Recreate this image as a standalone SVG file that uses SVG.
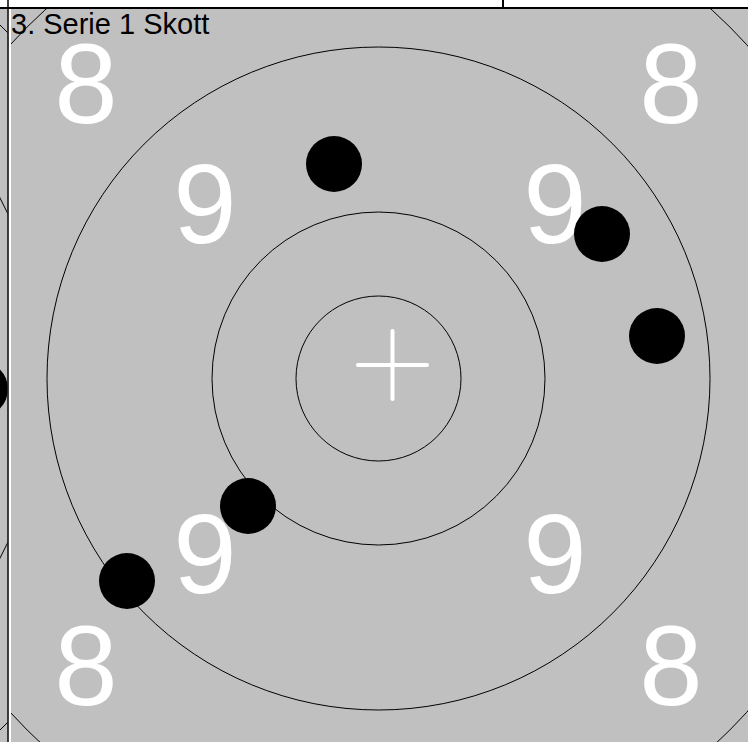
<svg xmlns="http://www.w3.org/2000/svg" width="748" height="742" viewBox="0 0 748 742">
  <style>
    .ring { fill: none; stroke: #000; stroke-width: 1; }
    .num { font-family: "Liberation Sans", Arial, sans-serif; font-size: 114px; fill: #fff; text-anchor: middle; }
    .title { font-family: "Liberation Sans", Arial, sans-serif; font-size: 29px; fill: #000; }
    .hit { fill: #000; }
  </style>
  <defs>
    <clipPath id="mainClip"><rect x="11" y="9" width="737" height="733"/></clipPath>
    <clipPath id="leftClip"><rect x="0" y="9" width="7.5" height="733"/></clipPath>
  </defs>
  <rect x="0" y="0" width="748" height="742" fill="#fff"/>
  <g id="left-strip">
    <rect x="0" y="9" width="7.5" height="733" fill="#c0c0c0"/>
    <g clip-path="url(#leftClip)" stroke="#000" stroke-width="1" fill="none">
      <line x1="-2" y1="23" x2="9" y2="34"/>
      <line x1="-2" y1="194" x2="9" y2="216"/>
      <line x1="-2" y1="562" x2="9" y2="540"/>
      <line x1="-2" y1="732" x2="9" y2="721"/>
      <circle cx="-20" cy="389" r="28" fill="#000" stroke="none"/>
    </g>
  </g>
  <g id="target" clip-path="url(#mainClip)">
    <rect x="11" y="9" width="737" height="733" fill="#c0c0c0"/>
    <circle class="ring" cx="378.5" cy="378.5" r="497"/>
    <circle class="ring" cx="378.5" cy="378.5" r="331.5"/>
    <circle class="ring" cx="378.5" cy="378.5" r="166.5"/>
    <circle class="ring" cx="378.5" cy="378.5" r="82.5"/>
  </g>
  <g id="frame" stroke="#000">
    <line x1="0" y1="8" x2="748" y2="8" stroke-width="2"/>
    <line x1="8" y1="0" x2="8" y2="742" stroke-width="1.5"/>
    <line x1="503" y1="0" x2="503" y2="7" stroke-width="2"/>
  </g>
  <g id="cross" stroke="#fff" stroke-width="4" stroke-linecap="round">
    <line x1="358" y1="365" x2="427" y2="365"/>
    <line x1="392.5" y1="331" x2="392.5" y2="399"/>
  </g>
  <g id="numbers">
    <text class="num" x="86" y="123">8</text>
    <text class="num" x="671" y="123">8</text>
    <text class="num" x="205" y="243">9</text>
    <text class="num" x="555" y="243">9</text>
    <text class="num" x="205" y="593">9</text>
    <text class="num" x="555" y="593">9</text>
    <text class="num" x="86" y="705">8</text>
    <text class="num" x="671" y="705">8</text>
  </g>
  <g id="hits">
    <circle class="hit" cx="334" cy="164" r="28"/>
    <circle class="hit" cx="602" cy="234" r="28"/>
    <circle class="hit" cx="657" cy="336" r="28"/>
    <circle class="hit" cx="248" cy="506" r="28"/>
    <circle class="hit" cx="127" cy="581" r="28"/>
  </g>
  <g id="title">
    <text class="title" x="11" y="34">3. Serie 1 Skott</text>
  </g>
</svg>
